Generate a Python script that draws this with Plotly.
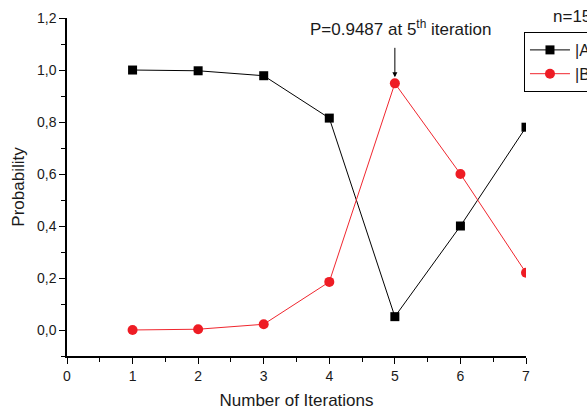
import plotly.graph_objects as go

iterations = [1, 2, 3, 4, 5, 6, 7]
prob_a = [0.9999, 0.997, 0.978, 0.815, 0.0513, 0.40, 0.78]
prob_b = [0.0001, 0.003, 0.022, 0.185, 0.9487, 0.60, 0.22]
x_ticks = [0, 1, 2, 3, 4, 5, 6, 7]
y_ticks = [0.0, 0.2, 0.4, 0.6, 0.8, 1.0, 1.2]

FONT = "Arial, Liberation Sans, sans-serif"
TEXT = "#1a1a1a"

fig = go.Figure()
fig.add_trace(go.Scatter(
    x=iterations, y=prob_a, mode="lines+markers", name="|A⟩",
    line=dict(color="#000000", width=1),
    marker=dict(symbol="square", size=9, color="#000000"),
))
fig.add_trace(go.Scatter(
    x=iterations, y=prob_b, mode="lines+markers", name="|B⟩",
    line=dict(color="#f0262e", width=1),
    marker=dict(symbol="circle", size=10, color="#ee1c24"),
))

axis_common = dict(
    showline=True, linecolor="#000000", linewidth=1.5,
    ticks="outside", ticklen=6, tickwidth=1.2, tickcolor="#000000",
    showgrid=False, zeroline=False,
    tickfont=dict(family=FONT, size=14, color=TEXT),
    minor=dict(ticks="outside", ticklen=4, tickwidth=1.2, tickcolor="#000000", showgrid=False),
)

fig.update_xaxes(
    range=[0, 7], tickvals=x_ticks, tickformat="d",
    minor_dtick=0.5,
    title=dict(text="Number of Iterations", font=dict(family=FONT, size=17, color=TEXT), standoff=12),
    **axis_common,
)
fig.update_yaxes(
    range=[-0.1, 1.2], tickvals=y_ticks, tickformat=".1f",
    minor_dtick=0.1,
    title=dict(text="Probability", font=dict(family=FONT, size=17, color=TEXT), standoff=8),
    **axis_common,
)

# arrow marking the maximum of |B⟩, with its label above
peak_x, peak_y = iterations[4], prob_b[4]
fig.add_annotation(
    x=peak_x, y=peak_y, xref="x", yref="y", text="",
    showarrow=True, arrowhead=2, arrowsize=1, arrowwidth=1, arrowcolor="#000000",
    ax=0, ay=-37, standoff=6,
)
fig.add_annotation(
    x=peak_x, y=0.970, xref="x", yref="paper",
    text="P=0.9487 at 5<sup>th</sup> iteration",
    showarrow=False, xshift=6,
    font=dict(family=FONT, size=17, color=TEXT),
    yanchor="middle",
)

fig.add_annotation(
    x=1.054, y=1.003, xref="paper", yref="paper",
    text="n=15", showarrow=False, xanchor="left", yanchor="middle",
    font=dict(family=FONT, size=17, color=TEXT),
)

fig.update_layout(
    width=587, height=412,
    margin=dict(l=67, r=61, t=18, b=56, autoexpand=False),
    paper_bgcolor="#ffffff", plot_bgcolor="#ffffff",
    separators=",.",
    showlegend=True,
    legend=dict(
        x=0.9956, y=0.9586, xanchor="left", yanchor="top",
        bordercolor="#000000", borderwidth=1, bgcolor="#ffffff",
        font=dict(family=FONT, size=16, color=TEXT),
        itemwidth=40, tracegroupgap=0,
    ),
)

fig.write_html("out.html")
